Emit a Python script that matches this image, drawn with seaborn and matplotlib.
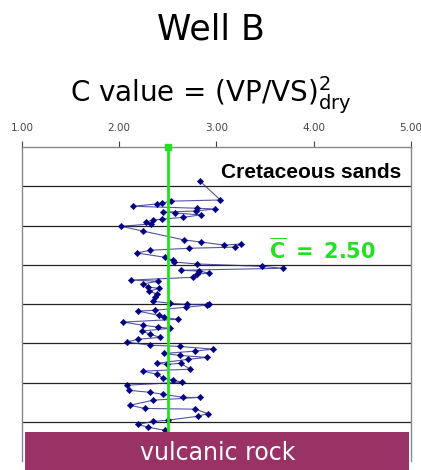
import matplotlib
matplotlib.use("Agg")
import matplotlib.pyplot as plt
from matplotlib.patches import Rectangle
import seaborn as sns
import pandas as pd

# ---- data ----
c_value = [2.83, 3.04, 2.53, 2.44, 2.39, 2.14, 2.80, 2.98, 2.79, 2.45,
           2.57, 2.84, 2.66, 2.44, 2.35, 2.28, 2.33, 2.02, 2.24, 2.67,
           2.84, 3.08, 3.25, 3.19, 2.72, 2.32, 2.18, 2.47, 2.55, 2.56,
           2.80, 3.47, 3.68, 2.63, 2.82, 2.92, 2.80, 2.76, 2.12, 2.40,
           2.24, 2.30, 2.41, 2.31, 2.39, 2.37, 2.35, 2.52, 2.70, 2.92,
           2.90, 2.69, 2.37, 2.19, 2.41, 2.46, 2.60, 2.04, 2.24, 2.40,
           2.52, 2.23, 2.32, 2.42, 2.19, 2.08, 2.32, 2.62, 2.96, 2.78,
           2.46, 2.62, 2.90, 2.71, 2.39, 2.49, 2.63, 2.73, 2.24, 2.39,
           2.45, 2.55, 2.65, 2.08, 2.10, 2.32, 2.45, 2.66, 2.83, 2.35,
           2.11, 2.26, 2.78, 2.91, 2.81, 2.50, 2.35, 2.19, 2.30, 2.47]
depth = [0.87, 1.35, 1.38, 1.43, 1.45, 1.51, 1.56, 1.58, 1.63, 1.66,
         1.68, 1.73, 1.79, 1.84, 1.86, 1.91, 1.96, 2.02, 2.14, 2.37,
         2.42, 2.50, 2.47, 2.55, 2.58, 2.63, 2.70, 2.81, 2.88, 2.93,
         2.98, 3.04, 3.09, 3.14, 3.16, 3.21, 3.24, 3.32, 3.39, 3.42,
         3.49, 3.57, 3.60, 3.67, 3.75, 3.83, 3.93, 3.98, 4.01, 4.01,
         4.03, 4.08, 4.16, 4.18, 4.29, 4.34, 4.39, 4.46, 4.54, 4.59,
         4.62, 4.69, 4.77, 4.85, 4.90, 4.97, 5.05, 5.08, 5.15, 5.20,
         5.26, 5.31, 5.36, 5.41, 5.51, 5.54, 5.51, 5.66, 5.71, 5.79,
         5.89, 5.94, 5.99, 6.07, 6.20, 6.25, 6.30, 6.38, 6.38, 6.45,
         6.58, 6.66, 6.68, 6.79, 6.86, 6.96, 6.99, 7.07, 7.14, 7.22]
c_mean = 2.50
x_ticks = [1.00, 2.00, 3.00, 4.00, 5.00]
x_tick_labels = ["1.00", "2.00", "3.00", "4.00", "5.00"]
grid_depths = [1, 2, 3, 4, 5, 6, 7]
title = "Well B"
subtitle = r"C value = (VP/VS)$^{2}_{\rm dry}$"
zone_label = "Cretaceous sands"
base_label = "vulcanic rock"
mean_label = r"$\overline{\mathbf{C}}\ \mathbf{=\ 2.50}$"

df = pd.DataFrame({"C": c_value, "depth": depth})

sns.set_style("white")
plt.rcParams["font.family"] = ["DejaVu Sans"]
plt.rcParams["text.color"] = "black"

fig = plt.figure(figsize=(4.21, 4.70), dpi=100)
ax = fig.add_axes([22 / 421, 1 - 461 / 470, (411 - 22) / 421, (461 - 147) / 470])

# horizontal grid lines
for g in grid_depths:
    ax.axhline(g, color="#222222", lw=0.9, zorder=1)

# data
sns.lineplot(data=df, x="C", y="depth", sort=False, estimator=None, ax=ax,
             color="#2a2a8a", lw=0.8, alpha=0.8, zorder=3)
sns.scatterplot(data=df, x="C", y="depth", ax=ax, marker="D", s=11,
                color="#000080", edgecolor="#000080", linewidth=0.3, zorder=4)

# mean line
ax.axvline(c_mean, color="#22e022", lw=2.0, zorder=5)
ax.plot([c_mean], [0], marker="s", ms=5, color="#22e022", clip_on=False, zorder=6)

ax.set_xlim(1, 5)
ax.set_ylim(8.0, 0)
ax.set_xlabel("")
ax.set_ylabel("")
ax.xaxis.tick_top()
ax.set_xticks(x_ticks)
ax.set_xticklabels(x_tick_labels)
ax.tick_params(axis="x", which="both", direction="out", length=4, width=0.8,
               colors="#444444", labelsize=7.5, pad=6, top=True, bottom=False)
ax.set_yticks([])
for s in ["top", "left", "right", "bottom"]:
    ax.spines[s].set_color("#888888")
    ax.spines[s].set_linewidth(1.0)
ax.spines["bottom"].set_visible(False)

# texts
fig.text(0.5, 1 - 30 / 470, title, ha="center", va="center", fontsize=25, color="black")
fig.text(0.5, 1 - 95 / 470, subtitle, ha="center", va="center", fontsize=20, color="black")
ax.text(0.975, 0.92, zone_label, transform=ax.transAxes, ha="right", va="center",
        fontsize=15, fontweight="bold", family="Liberation Sans", color="black", zorder=7)
fig.text(322 / 421, 1 - 250 / 470, mean_label, ha="center", va="center",
         fontsize=15, color="#22e022", zorder=7)

# vulcanic rock band
fig.add_artist(Rectangle((25 / 421, 0), (409 - 25) / 421, (470 - 432) / 470,
                         transform=fig.transFigure, facecolor="#993366",
                         edgecolor="none", zorder=10))
fig.text(218 / 421, 1 - 453 / 470, base_label, ha="center", va="center",
         fontsize=17, color="white", zorder=11)

fig.savefig("out.png", dpi=100)
